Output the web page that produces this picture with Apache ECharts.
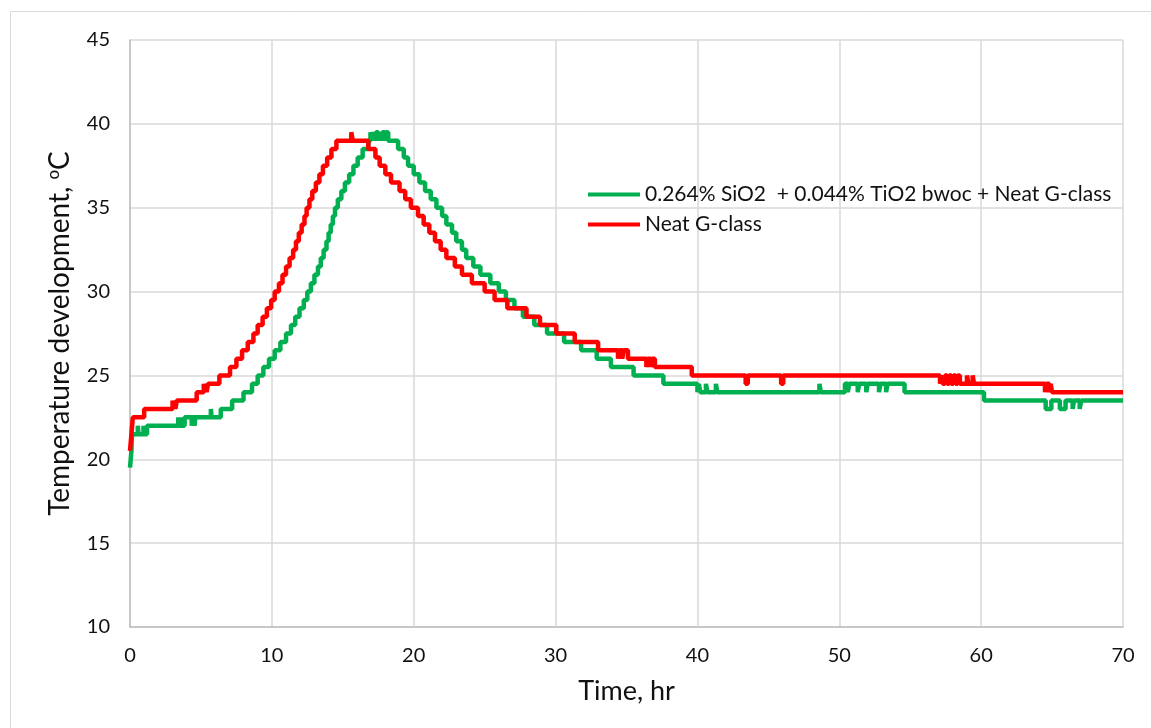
<!DOCTYPE html>
<html>
<head>
<meta charset="utf-8">
<title>Temperature development</title>
<script src="https://cdn.jsdelivr.net/npm/echarts@6/dist/echarts.min.js"></script>
<style>
  html, body { margin: 0; padding: 0; background: #fff; }
  #chart { width: 1151px; height: 728px; }
</style>
</head>
<body>
<div id="chart"></div>
<script>
// legend names
const seriesNames = ['0.264% SiO2  + 0.044% TiO2 bwoc + Neat G-class', 'Neat G-class'];

// axis ticks
const xTicks = { min: 0, max: 70, interval: 10 };
const yTicks = { min: 10, max: 45, interval: 5 };

// [time hr, temperature C] - the value starts at that time and holds until the next point
const hybridData = [
  [0, 19.5], [0.05, 20], [0.1, 20.5], [0.12, 21], [0.15, 21.5],
  [0.55, 22], [0.6, 21.5], [0.95, 22], [1.0, 21.5], [1.2, 22],
  [3.4, 22.5], [3.45, 22], [3.6, 22.5], [3.65, 22], [3.85, 22.5], [4.35, 22], [4.4, 22.5], [4.55, 22], [4.6, 22.5],
  [5.7, 23], [5.75, 22.5],
  [6.4, 23], [7.2, 23.5], [8.0, 24], [8.6, 24.5], [9.0, 25], [9.4, 25.5], [9.8, 26], [10.2, 26.5],
  [10.6, 27], [11.0, 27.5], [11.35, 28], [11.65, 28.5], [11.95, 29], [12.25, 29.5], [12.5, 30],
  [12.75, 30.5], [13.0, 31], [13.25, 31.5], [13.45, 32], [13.65, 32.5], [13.85, 33], [14.0, 33.5],
  [14.15, 34], [14.3, 34.5], [14.45, 35], [14.65, 35.5], [14.9, 36], [15.15, 36.5], [15.45, 37],
  [15.75, 37.5], [16.05, 38], [16.4, 38.5], [16.8, 39],
  [16.95, 39.5], [17.05, 39], [17.15, 39.5], [17.25, 39], [17.35, 39.5], [17.5, 39], [17.6, 39.5],
  [17.7, 39], [17.8, 39.5], [17.95, 39], [18.05, 39.5], [18.2, 39],
  [18.9, 38.5], [19.3, 38], [19.6, 37.5], [20.0, 37], [20.4, 36.5], [20.8, 36], [21.2, 35.5],
  [21.6, 35], [22.0, 34.5], [22.3, 34], [22.7, 33.5], [23.0, 33], [23.4, 32.5], [23.7, 32],
  [24.2, 31.5], [24.7, 31], [25.4, 30.5], [26.0, 30], [26.5, 29.5], [27.1, 29], [27.7, 28.5],
  [28.5, 28], [29.4, 27.5], [30.6, 27], [31.8, 26.5], [32.9, 26], [33.9, 25.5], [35.5, 25], [37.6, 24.5],
  [40.0, 24], [40.1, 24.5], [40.2, 24], [40.6, 24.5], [40.7, 24], [41.3, 24.5], [41.4, 24],
  [48.6, 24.5], [48.7, 24],
  [50.4, 24.5], [50.6, 24], [50.7, 24.5], [51.3, 24], [51.4, 24.5], [51.9, 24], [52.0, 24.5],
  [52.8, 24], [52.9, 24.5], [53.3, 24], [53.4, 24.5], [54.6, 24],
  [60.2, 23.5], [64.55, 23], [64.95, 23.5], [65.55, 23], [65.95, 23.5], [66.45, 23], [66.55, 23.5],
  [66.95, 23], [67.05, 23.5], [70, 23.5]
];

const neatData = [
  [0, 20.5], [0.05, 21], [0.1, 21.5], [0.15, 22], [0.2, 22.5], [1.0, 23],
  [3.0, 23.5], [3.05, 23], [3.15, 23.5], [3.2, 23], [3.3, 23.5],
  [4.7, 24], [5.2, 24.5], [5.25, 24], [5.35, 24.5], [5.4, 24], [5.5, 24.5],
  [6.3, 25], [7.05, 25.5], [7.5, 26], [7.9, 26.5], [8.3, 27], [8.7, 27.5], [9.0, 28], [9.35, 28.5],
  [9.65, 29], [9.95, 29.5], [10.2, 30], [10.5, 30.5], [10.75, 31], [11.0, 31.5], [11.25, 32],
  [11.5, 32.5], [11.7, 33], [11.9, 33.5], [12.1, 34], [12.3, 34.5], [12.45, 35], [12.65, 35.5],
  [12.85, 36], [13.1, 36.5], [13.35, 37], [13.6, 37.5], [13.9, 38], [14.2, 38.5], [14.55, 39],
  [15.6, 39.5], [15.7, 39],
  [16.8, 38.5], [17.3, 38], [17.6, 37.5], [18.0, 37], [18.4, 36.5], [19.0, 36], [19.4, 35.5],
  [19.8, 35], [20.3, 34.5], [20.7, 34], [21.1, 33.5], [21.5, 33], [21.9, 32.5], [22.3, 32],
  [22.9, 31.5], [23.4, 31], [24.1, 30.5], [25.0, 30], [25.7, 29.5], [26.6, 29], [27.95, 28.5],
  [28.9, 28], [30.05, 27.5], [31.35, 27], [33.0, 26.5],
  [34.4, 26], [34.5, 26.5], [34.7, 26], [34.8, 26.5], [35.1, 26],
  [36.4, 25.5], [36.5, 26], [36.7, 25.5], [36.8, 26], [37.0, 25.5],
  [39.6, 25], [43.4, 24.5], [43.55, 25], [45.9, 24.5], [46.05, 25],
  [57.1, 24.5], [57.2, 25], [57.3, 24.5], [57.45, 25], [57.6, 24.5], [57.75, 25], [57.9, 24.5],
  [58.05, 25], [58.2, 24.5], [58.35, 25], [58.5, 24.5], [59.0, 25], [59.1, 24.5], [59.4, 25], [59.5, 24.5],
  [64.5, 24], [64.6, 24.5], [64.8, 24], [64.9, 24.5], [65.0, 24], [70, 24]
];

const font = 'Lato, "Open Sans", sans-serif';
const textColor = '#111';

const chart = echarts.init(document.getElementById('chart'), null, { renderer: 'canvas' });

chart.setOption({
  animation: false,
  backgroundColor: '#fff',
  textStyle: { fontFamily: font },
  graphic: [{
    type: 'rect',
    shape: { x: 10.5, y: 11.5, width: 1160, height: 740 },
    style: { fill: 'none', stroke: '#d9d9d9', lineWidth: 1 },
    silent: true
  }],
  grid: { left: 130, right: 28, top: 40, bottom: 101 },
  legend: {
    orient: 'vertical',
    left: 583,
    top: 179,
    itemWidth: 52,
    itemHeight: 4,
    itemGap: 9,
    icon: 'rect',
    textStyle: { fontSize: 21, color: textColor, fontFamily: font },
    data: seriesNames
  },
  xAxis: {
    type: 'value',
    min: xTicks.min,
    max: xTicks.max,
    interval: xTicks.interval,
    name: 'Time, hr',
    nameLocation: 'middle',
    nameGap: 51,
    nameTextStyle: { fontSize: 27, color: textColor, fontFamily: font },
    axisLine: { show: true, lineStyle: { color: '#bfbfbf', width: 1.5 } },
    axisTick: { show: false },
    axisLabel: { fontSize: 20, color: textColor, margin: 19, fontFamily: font },
    splitLine: { show: true, lineStyle: { color: '#d9d9d9', width: 1.5 } }
  },
  yAxis: {
    type: 'value',
    min: yTicks.min,
    max: yTicks.max,
    interval: yTicks.interval,
    name: '{t|Temperature development, }{s|o}{t|C}',
    nameLocation: 'middle',
    nameGap: 55,
    nameTextStyle: {
      fontSize: 28, color: textColor, fontFamily: font,
      rich: {
        t: { fontSize: 28, color: textColor, fontFamily: font },
        s: { fontSize: 17, color: textColor, fontFamily: font, verticalAlign: 'top', padding: [0, 0, 13, 0] }
      }
    },
    axisLine: { show: true, lineStyle: { color: '#bfbfbf', width: 1.5 } },
    axisTick: { show: false },
    axisLabel: { fontSize: 20, color: textColor, margin: 20, fontFamily: font },
    splitLine: { show: true, lineStyle: { color: '#d9d9d9', width: 1.5 } }
  },
  series: [
    {
      name: seriesNames[0],
      type: 'line',
      step: 'end',
      showSymbol: false,
      data: hybridData,
      lineStyle: { color: '#00b050', width: 4.5 },
      itemStyle: { color: '#00b050' }
    },
    {
      name: seriesNames[1],
      type: 'line',
      step: 'end',
      showSymbol: false,
      data: neatData,
      lineStyle: { color: '#ff0000', width: 4.5 },
      itemStyle: { color: '#ff0000' }
    }
  ]
});
</script>
</body>
</html>
